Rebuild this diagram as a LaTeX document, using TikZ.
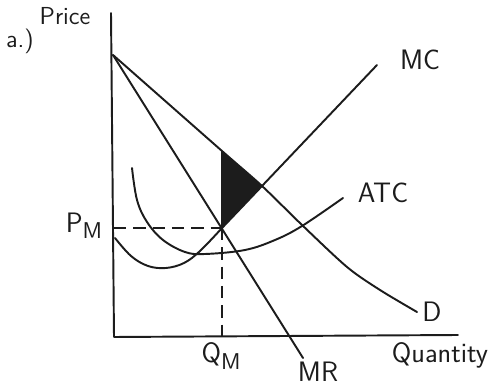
\documentclass[tikz,border=0pt]{standalone}
\usepackage{tikz}
\usetikzlibrary{calc}
\definecolor{InkColor}{RGB}{28,28,28}
\newcommand{\lowidx}[1]{\raisebox{-0.5ex}{\fontsize{13}{14}\selectfont #1}}

\begin{document}
\begin{tikzpicture}[x=0.2mm, y=-0.2mm, line width=1.1pt, InkColor,
    lbl/.style={font=\sffamily\fontsize{16}{18}\selectfont, inner sep=0pt},
    small lbl/.style={font=\sffamily\fontsize{14}{16}\selectfont, inner sep=0pt},
    ink/.style={line cap=round, line join=round},
    guide/.style={dashed, dash pattern=on 7pt off 4pt}]
  \useasboundingbox (0,0) rectangle (493,388);
  % key points
  \coordinate (ytop) at (111,13);
  \coordinate (O) at (114,337);
  \coordinate (xend) at (458,335);
  \coordinate (A) at (113,55);
  \coordinate (E) at (222,228);
  \coordinate (T) at (222,151);
  \coordinate (S) at (262,186);
  \coordinate (mcend) at (377,65);
  \coordinate (mrend) at (303,358);
  \coordinate (pm) at (114,228);
  \coordinate (qm) at (222,337);
  % deadweight loss
  \fill[InkColor] (T) -- (S) -- (E) -- cycle;
  % axes
  \draw[ink] (ytop) -- (O) -- (xend);
  % demand, MR
  \draw[ink] plot[smooth, tension=0.5] coordinates {(A) (T) (S) (302,225) (347,267) (380,290) (417,312)};
  \draw[ink] (A) -- (mrend);
  % MC, ATC
  \draw[ink] plot[smooth, tension=0.6] coordinates {(115,238) (131,256) (148,266) (166,268) (184,263) (200,251) (E)};
  \draw[ink] (E) -- (S) -- (mcend);
  \draw[ink] plot[smooth, tension=0.6] coordinates {(132,168) (137,200) (147,222) (163,240) (185,252) (205,254) (245,250) (275,240) (302,226) (343,198)};
  % monopoly price and quantity
  \draw[guide] (pm) -- (E);
  \draw[guide] (E) -- (qm);
  \draw (T) -- (E);
  % labels
  \node[small lbl] (part) at (20,41) {a.)};
  \node[small lbl] (price) at (65,16) {Price};
  \node[lbl] (quantity) at (440,355) {Quantity};
  \node[lbl] (mclbl) at (420,60) {MC};
  \node[lbl] (atclbl) at (383,193) {ATC};
  \node[lbl] (dlbl) at (432,312) {D};
  \node[lbl] (mrlbl) at (318,372) {MR};
  \node[lbl] (pmlbl) at (84,226) {P\lowidx{M}};
  \node[lbl] (qmlbl) at (221,356) {Q\lowidx{M}};
\end{tikzpicture}
\end{document}
